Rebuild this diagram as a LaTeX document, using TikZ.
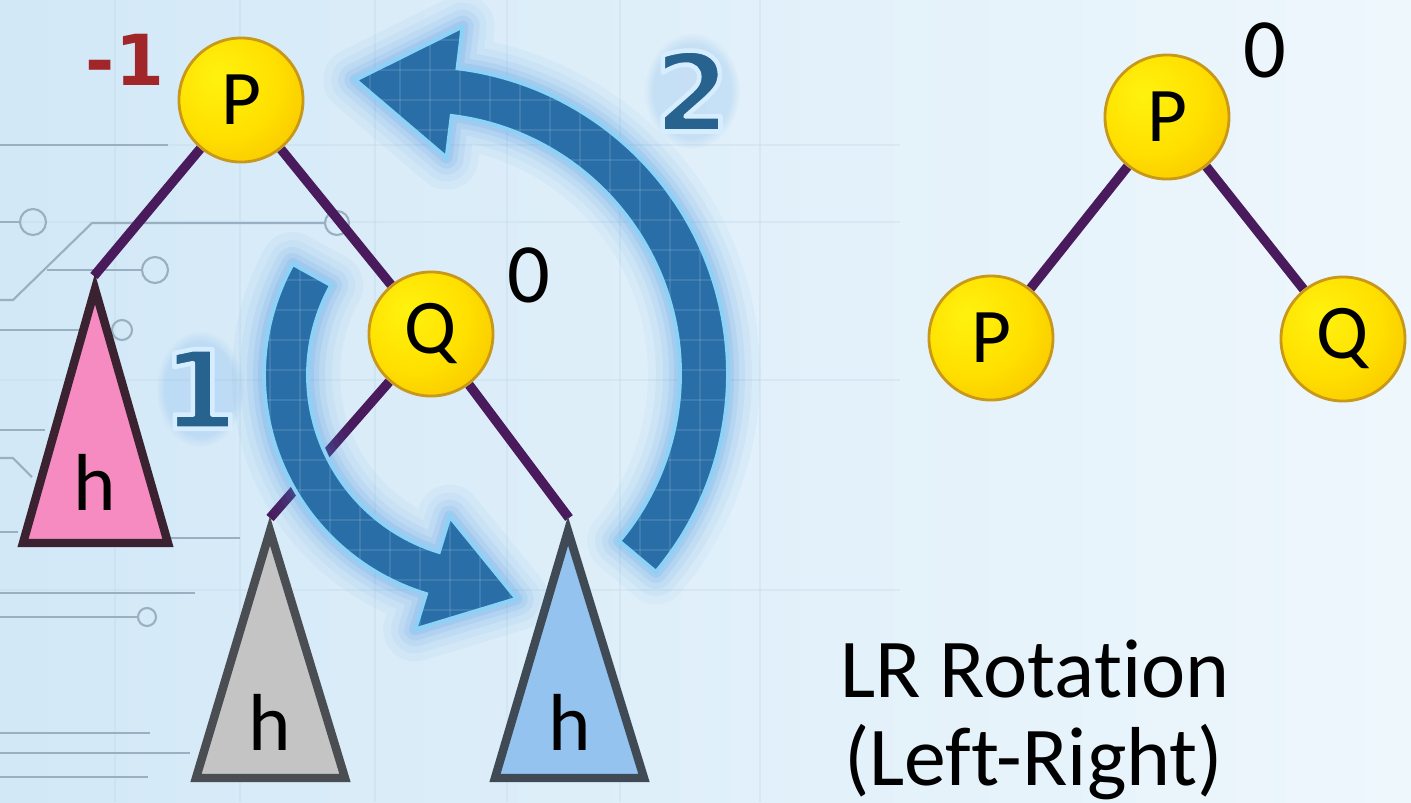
\documentclass[tikz,border=0pt]{standalone}
\usepackage{fontspec}
\setmainfont{Carlito}[Ligatures=NoCommon]
\newfontfamily\djb{DejaVu Sans Bold}
\usetikzlibrary{calc,fadings}
\definecolor{bgL}{HTML}{D2E8F7}
\definecolor{bgR}{HTML}{EEF7FC}
\definecolor{tracec}{HTML}{98B0C2}
\definecolor{gridc}{HTML}{C2D9E8}
\definecolor{edgec}{HTML}{4A1B5C}
\definecolor{yeA}{HTML}{FFF20F}
\definecolor{yeB}{HTML}{FFE000}
\definecolor{yeC}{HTML}{F7BE00}
\definecolor{yeD}{HTML}{EE9E00}
\definecolor{yeline}{HTML}{C8981A}
\definecolor{arrfill}{HTML}{2A6EA8}
\definecolor{arrline}{HTML}{8CD2F6}
\definecolor{glowc}{HTML}{3F8FE0}
\definecolor{pinkf}{HTML}{F58BC1}
\definecolor{pinkl}{HTML}{3A2230}
\definecolor{grayf}{HTML}{C4C4C4}
\definecolor{grayl}{HTML}{4A4E52}
\definecolor{bluef}{HTML}{93C3EE}
\definecolor{bluel}{HTML}{404A54}
\definecolor{numc}{HTML}{28628F}
\definecolor{redc}{HTML}{A0262A}
\pgfdeclareradialshading{yball}{\pgfpoint{-10bp}{10bp}}{color(0bp)=(yeA); color(22bp)=(yeB); color(42bp)=(yeC); color(62bp)=(yeD); color(80bp)=(yeD)}
\pgfdeclarelayer{bglayer}
\pgfdeclarelayer{edgelayer}
\pgfsetlayers{bglayer,edgelayer,main}
\newcommand{\outlinedtext}[1]{\special{pdf:code q 2 Tr 1.3 w 1 j 0.84 0.93 1 RG}#1\special{pdf:code Q}}
\tikzset{
 ball/.style={circle, shading=yball, draw=yeline, line width=0.8pt, minimum size=1.24cm, inner sep=0pt, font=\fontsize{22}{24}\selectfont},
 edgeline/.style={draw=edgec, line width=2.7pt},
 trace/.style={draw=tracec, line width=0.6pt},
 gridline/.style={draw=gridc, line width=0.4pt, opacity=0.35},
 tri/.style={line width=2.4pt, line join=miter},
 hlabel/.style={font=\fontsize{23}{25}\selectfont},
 bal/.style={font=\fontsize{24}{26}\selectfont},
 bignum/.style={font=\djb\fontsize{31}{33}\selectfont, text=numc},
 numglow/.style={fill=glowc, opacity=0.16, path fading=circle with fuzzy edge 20 percent},
 arrowbody/.style={fill=arrfill},
 arrowrim/.style={draw=arrline, line width=1.1pt, line join=miter},
 title/.style={font=\fontsize{23.8}{27}\selectfont, anchor=base west}
}
\def\arrowApath{($(cA)+(209:229)$) arc[start angle=209, end angle=107, radius=229] -- ($(cA)+(107:266)$) -- ($(cA)+(107:207)+(17:88)$) -- ($(cA)+(107:148)$) -- ($(cA)+(107:185)$) arc[start angle=107, end angle=209, radius=185] -- cycle}
\def\arrowBpath{($(cB)+(40:308)$) arc[start angle=40, end angle=-83, radius=308] -- ($(cB)+(-83:350)$) -- ($(cB)+(-83:284)+(-173:100)$) -- ($(cB)+(-83:218)$) -- ($(cB)+(-83:260)$) arc[start angle=-83, end angle=40, radius=260] -- cycle}
\begin{document}
\begin{tikzpicture}[x=0.01cm,y=-0.01cm]
\useasboundingbox (0,0) rectangle (1411,802);
\clip (0,0) rectangle (1411,802);
\begin{pgfonlayer}{bglayer}
\fill[left color=bgL, right color=bgR] (0,0) rectangle (1411,802);
\foreach \x in {115,240,375,507,620,760} {\draw[gridline] (\x,0) -- (\x,802);}
\foreach \y in {145,222,380,590} {\draw[gridline] (0,\y) -- (900,\y);}
\draw[trace] (0,145) -- (168,145);
\draw[trace] (0,222) -- (20,222);
\draw[trace] (33,222) circle (13);
\draw[trace] (0,300) -- (13,300) -- (92,223) -- (325,223);
\draw[trace] (337,223) circle (12);
\draw[trace] (47,270) -- (142,270);
\draw[trace] (155,270) circle (13);
\draw[trace] (0,330) -- (112,330);
\draw[trace] (122,330) circle (10);
\draw[trace] (0,430) -- (45,430);
\draw[trace] (0,458) -- (13,458) -- (32,477);
\draw[trace] (0,532) -- (18,532);
\draw[trace] (170,538) -- (240,538);
\draw[trace] (0,593) -- (195,593);
\draw[trace] (0,617) -- (138,617);
\draw[trace] (147,617) circle (9);
\draw[trace] (0,733) -- (150,733);
\draw[trace] (0,753) -- (190,753);
\draw[trace] (0,777) -- (148,777);
\end{pgfonlayer}
% left tree
\coordinate (ta) at (94,276);
\coordinate (tb) at (270,518);
\coordinate (tc) at (569,518);
\draw[tri, fill=pinkf, draw=pinkl] (95,289) -- (23,543) -- (168,543) -- cycle;
\draw[tri, fill=grayf, draw=grayl] (270,531) -- (196,778) -- (345,778) -- cycle;
\draw[tri, fill=bluef, draw=bluel] (568,531) -- (495,778) -- (644,778) -- cycle;
\node[hlabel] (ha) at (95,482) {h};
\node[hlabel] (hb) at (270,722) {h};
\node[hlabel] (hc) at (570,722) {h};
\node[ball] (P) at (241,100) {P};
\node[ball] (Q) at (431,334) {Q};
\begin{pgfonlayer}{edgelayer}
\draw[edgeline] (P) -- (ta);
\draw[edgeline] (P) -- (Q);
\draw[edgeline] (Q) -- (tb);
\draw[edgeline] (Q) -- (tc);
\end{pgfonlayer}
\node[font=\djb\fontsize{20}{22}\selectfont, text=redc] (bfP) at (125,60) {-1};
\node[bal] (bfQ) at (529,275) {0};
% arrows
\coordinate (cA) at (493,375);
\coordinate (cB) at (420,374);
\foreach \w/\o in {64/0.05,48/0.06,34/0.08,22/0.1,12/0.12} {
  \draw[glowc, line width=\w*0.01cm, opacity=\o, line join=round] \arrowApath;
  \draw[glowc, line width=\w*0.01cm, opacity=\o, line join=round] \arrowBpath;
}
\fill[arrowbody] \arrowApath;
\fill[arrowbody] \arrowBpath;
\begin{scope}
\clip \arrowApath;
\foreach \g in {240,270,...,560} {\draw[white,opacity=0.1,line width=0.4pt] (\g,250) -- (\g,650);}
\foreach \g in {250,280,...,650} {\draw[white,opacity=0.1,line width=0.4pt] (240,\g) -- (560,\g);}
\end{scope}
\begin{scope}
\clip \arrowBpath;
\foreach \g in {340,370,...,740} {\draw[white,opacity=0.1,line width=0.4pt] (\g,0) -- (\g,600);}
\foreach \g in {10,40,...,600} {\draw[white,opacity=0.1,line width=0.4pt] (340,\g) -- (740,\g);}
\end{scope}
\draw[arrowrim] \arrowApath;
\draw[arrowrim] \arrowBpath;
% step numbers
\coordinate (n1c) at (200,389);
\coordinate (n2c) at (692,91);
\fill[numglow] (n1c) ellipse [x radius=44, y radius=58];
\fill[numglow] (n2c) ellipse [x radius=48, y radius=58];
\node[bignum] (n1) at (n1c) {\outlinedtext{1}};
\node[bignum] (n2) at (n2c) {\outlinedtext{2}};
% right tree
\node[ball] (R) at (1167,117) {P};
\node[ball] (RL) at (991,338) {P};
\node[ball] (RQ) at (1343,339) {Q};
\begin{pgfonlayer}{edgelayer}
\draw[edgeline] (R) -- (RL);
\draw[edgeline] (R) -- (RQ);
\end{pgfonlayer}
\node[bal] (bfR) at (1265,50) {0};
% title
\node[title] (t1) at (828,697) {LR Rotation};
\node[title] (t2) at (832,785) {(Left-Right)};
\end{tikzpicture}
\end{document}
